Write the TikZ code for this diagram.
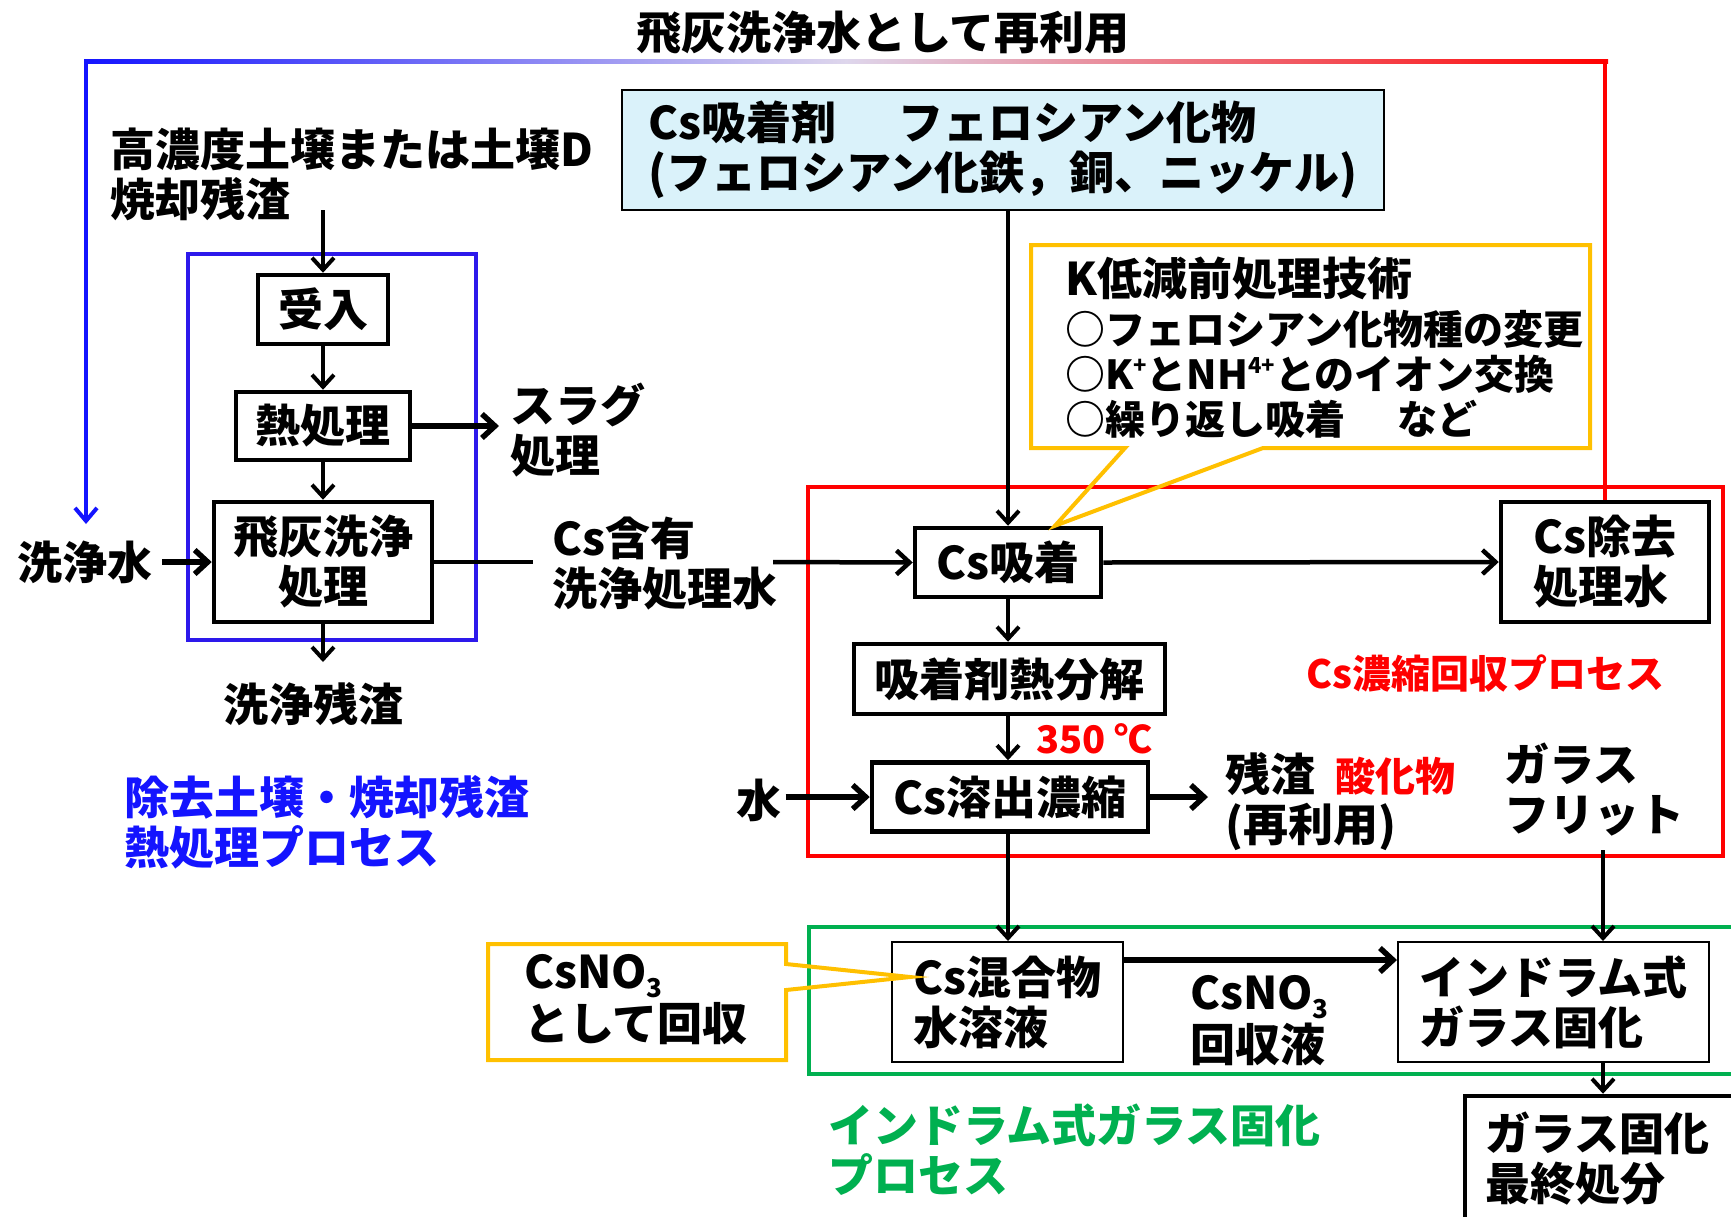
\documentclass[tikz,border=0pt]{standalone}
\usepackage{fontspec}
\setmainfont{Noto Sans CJK JP}
\usetikzlibrary{arrows.meta}
\definecolor{lb}{RGB}{218,242,250}
\definecolor{bv}{RGB}{45,25,235}
\definecolor{fbblue}{RGB}{20,20,255}
\definecolor{rd}{RGB}{255,0,0}
\definecolor{pale}{RGB}{222,214,236}
\definecolor{gr}{RGB}{0,176,80}
\definecolor{yl}{RGB}{255,192,0}
\newcommand\mysub[1]{\raisebox{-0.18em}{\fontsize{26pt}{26pt}\selectfont #1}}
\newcommand\mysup[1]{\raisebox{0.42em}{\fontsize{22pt}{22pt}\selectfont #1}}
\begin{document}
\begin{tikzpicture}[x=1pt,y=-1pt,
  every node/.style={font=\fontsize{45pt}{50pt}\selectfont\bfseries, inner sep=0pt},
  box/.style={draw, line width=4.5pt, align=center},
  thinbox/.style={draw, line width=2pt, align=left},
  txt/.style={anchor=west, align=left},
  arr/.style={line width=4pt, -{Straight Barb[length=12pt,width=22pt]}},
  tarr/.style={line width=5.5pt, -{Straight Barb[length=13pt,width=24pt]}},
  callout/.style={draw=yl, line width=4pt, line join=miter},
]
\fill[white] (0,0) rectangle (1731,1216);
\useasboundingbox (0,0) rectangle (1731,1216);

% title and feedback loop
\node (title) at (883,33) {飛灰洗浄水として再利用};
\coordinate (fbL) at (86,61);
\coordinate (fbR) at (1606,61);
\coordinate (fbtip) at (86,524);

% left process
\node[txt] (src) at (110,174) {高濃度土壌または土壌D\\焼却残渣};
\node[draw=bv, line width=4pt, minimum width=288pt, minimum height=386pt] (grpA) at (332,447) {};
\node[box, minimum width=130pt, minimum height=69pt] (ukeire) at (323,309.5) {受入};
\node[box, minimum width=174pt, minimum height=68pt] (netsu) at (323,426) {熱処理};
\node[box, minimum width=218pt, minimum height=120pt] (hibai) at (323,562) {飛灰洗浄\\処理};
\node[txt] (slag) at (510,430) {スラグ\\処理};
\node[txt] (senjousui) at (17,562) {洗浄水};
\node (zansa) at (313,704) {洗浄残渣};
\node[txt, text=fbblue] (blab) at (124,822) {除去土壌・焼却残渣\\熱処理プロセス};
\node[txt] (csgan) at (552,564) {Cs含有\\洗浄処理水};

% adsorbent
\node[draw, fill=lb, line width=1.5pt, minimum width=762pt, minimum height=120pt, align=left] (ads) at (1003,150)
  {Cs吸着剤\hspace{62pt}フェロシアン化物\\(フェロシアン化鉄，銅、ニッケル)};

% red process
\node[draw=rd, line width=4pt, minimum width=915pt, minimum height=369pt] (grpB) at (1265.5,671.5) {};
\node[box, minimum width=186pt, minimum height=69pt] (kyu) at (1008,562.5) {Cs吸着};
\node[box, minimum width=208pt, minimum height=120pt, align=left] (jokyo) at (1605,562) {Cs除去\\処理水};
\node[box, minimum width=311pt, minimum height=70pt] (bunkai) at (1009.5,679) {吸着剤熱分解};
\node[box, minimum width=276pt, minimum height=69pt] (yous) at (1010,797) {Cs溶出濃縮};
\node[txt, text=rd, font=\fontsize{38pt}{40pt}\selectfont\bfseries] (temp) at (1036,739) {350 ℃};
\node (mizu) at (759,800) {水};
\node[txt] (resid) at (1225,802) {残渣\hspace{20pt}{\color{rd}\fontsize{40pt}{45pt}\selectfont 酸化物}\\(再利用)};
\node[txt] (frit) at (1504,790) {ガラス\\フリット};
\node[txt, text=rd, font=\fontsize{39pt}{45pt}\selectfont\bfseries] (rlab) at (1306,673) {Cs濃縮回収プロセス};

% K callout
\node[txt, font=\fontsize{40pt}{45pt}\selectfont\bfseries] (ktext) at (1065,348)
  {{\fontsize{45pt}{45pt}\selectfont K低減前処理技術}\\[4pt]○フェロシアン化物種の変更\\○K\mysup{+}とNH\mysup{4+}とのイオン交換\\○繰り返し吸着\hspace{52pt}など};
\draw[callout] (1031,245) -- (1590,245) -- (1590,448) -- (1263,448) -- ([xshift=47pt]kyu.north) -- (1125,448) -- (1031,448) -- cycle;

% green process
\node[draw=gr, line width=4pt, minimum width=936pt, minimum height=147pt] (grpC) at (1277,1000.5) {};
\node[thinbox, minimum width=231pt, minimum height=120pt] (mix) at (1007.5,1002) {Cs混合物\\水溶液};
\node[thinbox, minimum width=311pt, minimum height=120pt] (indram) at (1553.5,1002) {インドラム式\\ガラス固化};
\node[txt] (csno3b) at (1190,1021) {CsNO\mysub{3}\\[2pt]回収液};
\node[txt, text=gr] (glab) at (828,1150) {インドラム式ガラス固化\\プロセス};
\node[draw, line width=4.5pt, minimum width=300pt, minimum height=126pt, text width=260pt, align=left] (final) at (1615,1159) {ガラス固化\\最終処分};

% CsNO3 callout
\node[txt] (csno3a) at (524,1000) {CsNO\mysub{3}\\[2pt]として回収};
\draw[callout] (488,944) -- (786,944) -- (786,964) -- ([xshift=19pt,yshift=25pt]mix.west) -- (786,990) -- (786,1060) -- (488,1060) -- cycle;

% feedback loop drawing
\shade[left color=fbblue, right color=rd, middle color=pale] (84,59) rectangle (1608,63);
\draw[fbblue, line width=4pt, -{Straight Barb[length=13pt,width=22pt]}] (fbL) -- (fbtip);
\draw[rd, line width=4pt] (jokyo.north) -- (jokyo.north |- fbR);

% connectors
\coordinate (srcarr) at (323,210);
\draw[arr] (srcarr) -- (ukeire.north);
\draw[arr] (ukeire) -- (netsu);
\draw[arr] (netsu) -- (hibai);
\coordinate (slagpt) at (499,426);
\draw[tarr] (netsu.east) -- (slagpt);
\draw[tarr, shorten <=10pt] (senjousui.east) -- (hibai.west);
\coordinate (zanpt) at (323,662);
\draw[arr] (hibai.south) -- (zanpt);
\coordinate (c1) at (533,562);
\coordinate (c2) at (773,562);
\draw[line width=4.5pt] (hibai.east) -- (c1);
\draw[tarr, line width=4.5pt] (c2) -- (kyu.west);
\draw[arr] (kyu.north |- ads.south) -- (kyu.north);
\draw[tarr, line width=4.5pt] (kyu.east) -- (jokyo.west);
\draw[arr] (kyu.south) -- (kyu.south |- bunkai.north);
\draw[arr] (kyu.south |- bunkai.south) -- (kyu.south |- yous.north);
\draw[tarr, shorten <=4pt] (yous.west -| mizu.east) -- (yous.west);
\coordinate (respt) at (1208,797);
\draw[tarr] (yous.east) -- (respt);
\draw[arr] (kyu.south |- yous.south) -- (kyu.south |- mix.north);
\coordinate (gf) at (1603,850);
\draw[arr] (gf) -- (gf |- indram.north);
\draw[arr] (gf |- indram.south) -- (gf |- final.north);
\draw[tarr] ([yshift=42pt]mix.east) -- ([yshift=42pt]indram.west);
\end{tikzpicture}
\end{document}
